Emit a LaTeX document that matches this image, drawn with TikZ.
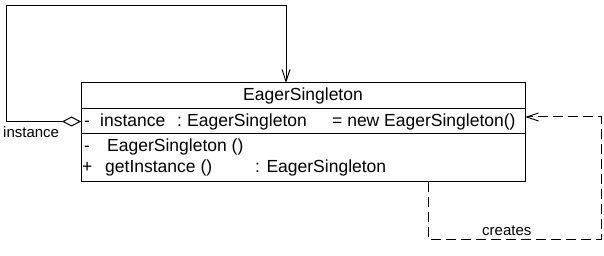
\documentclass[tikz,border=0pt]{standalone}
\usepackage{fontspec}
\setmainfont{Liberation Sans}
\usepackage{tikz}
\usetikzlibrary{arrows.meta,positioning}

\begin{document}
\begin{tikzpicture}[x=1pt,y=-1pt,
 font=\fontsize{17.5}{20}\selectfont,
 box/.style={draw,line width=1pt,minimum width=444pt,inner sep=0pt,outer sep=0pt},
 txt/.style={inner sep=0pt,anchor=base west},
 lbl/.style={txt,font=\fontsize{15}{18}\selectfont},
 assoc/.style={draw,line width=1pt,{Diamond[open,length=19pt,width=10pt]}-{Straight Barb[length=12pt,width=8pt]}},
 dep/.style={draw,line width=1pt,dash pattern=on 10pt off 5pt,-{Straight Barb[length=12pt,width=8pt]}}]
\useasboundingbox (0,0) rectangle (604,256);
% class compartments
\node[box,minimum height=26pt] (head) at (303,96) {};
\node[box,minimum height=25pt] (attrs) at (303,121.5) {};
\node[box,minimum height=48pt] (ops) at (303,158) {};
\node[txt,anchor=base] (name) at (303,101) {EagerSingleton};
% attribute row
\node[txt] (avis) at (84,127) {-};
\node[txt] (aname) at (100,127) {instance};
\node[txt] (acol) at (177,127) {:};
\node[txt] (atype) at (187,127) {EagerSingleton};
\node[txt] (aval) at (332,127) {= new EagerSingleton()};
% operation rows
\node[txt] (cvis) at (84,152) {-};
\node[txt] (cname) at (107,152) {EagerSingleton ()};
\node[txt] (gvis) at (82,173) {+};
\node[txt] (gname) at (105,173) {getInstance ()};
\node[txt] (gtype) at (255,173) {: EagerSingleton};
% self association
\coordinate (loop) at (6,6);
\coordinate (selfin) at (286,83);
\draw[assoc] (attrs.west) -| (loop) -| (selfin);
\node[lbl] (role) at (3,138) {instance};
% creates dependency
\coordinate (depout) at (428,182);
\coordinate (depc) at (601,239);
\coordinate (depin) at (525,117);
\draw[dep] (depout) |- (depc) |- (depin);
\node[lbl] (crt) at (482,235) {creates};
\end{tikzpicture}
\end{document}
